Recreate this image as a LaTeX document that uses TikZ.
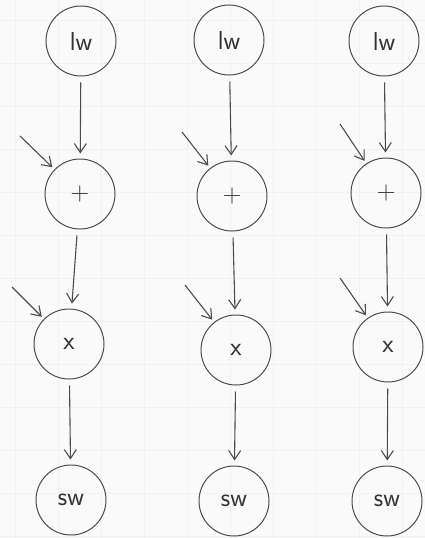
\documentclass[tikz,border=0pt]{standalone}
\usetikzlibrary{arrows.meta}
\begin{document}
\begin{tikzpicture}[x=1pt,y=-1pt,
  op/.style={circle,draw=black!70,line width=1pt,minimum size=70pt,inner sep=0pt,font=\sffamily\fontsize{26}{28}\selectfont,text=black!80},
  flow/.style={-{Straight Barb[length=9pt,width=12pt]},draw=black!70,line width=1.1pt,shorten >=5pt,shorten <=6pt},
  side/.style={-{Straight Barb[length=9pt,width=12pt]},draw=black!70,line width=1.1pt,shorten >=3pt}]
\fill[black!2] (0,0) rectangle (425,538);
\useasboundingbox (0,0) rectangle (425,538);
\foreach \gx in {15,58,101,144,187,230,273,316,359,402} \draw[black!5,line width=0.4pt] (\gx,0) -- (\gx,538);
\foreach \gy in {20,63,106,149,192,235,278,321,364,407,450,493,536} \draw[black!5,line width=0.4pt] (0,\gy) -- (425,\gy);
% column 1
\node[op] (lw1) at (81,41) {lw};
\node[op] (p1) at (80,194) {+};
\node[op] (m1) at (69,344) {x};
\node[op] (s1) at (71,500) {sw};
% column 2
\node[op] (lw2) at (229,40) {lw};
\node[op] (p2) at (232,196) {+};
\node[op] (m2) at (236,350) {x};
\node[op] (s2) at (234,501) {sw};
% column 3
\node[op] (lw3) at (384,41) {lw};
\node[op] (p3) at (386,193) {+};
\node[op] (m3) at (388,347) {x};
\node[op] (s3) at (387,501) {sw};
% side inputs
\coordinate (a1) at (20,136);
\coordinate (b1) at (12,287);
\coordinate (a2) at (182,132);
\coordinate (b2) at (185,285);
\coordinate (a3) at (340,124);
\coordinate (b3) at (340,278);
\foreach \c in {1,2,3}{
  \draw[flow] (lw\c) -- (p\c);
  \draw[flow] (p\c) -- (m\c);
  \draw[flow] (m\c) -- (s\c);
  \draw[side] (a\c) -- (p\c);
  \draw[side] (b\c) -- (m\c);
}
\end{tikzpicture}
\end{document}
